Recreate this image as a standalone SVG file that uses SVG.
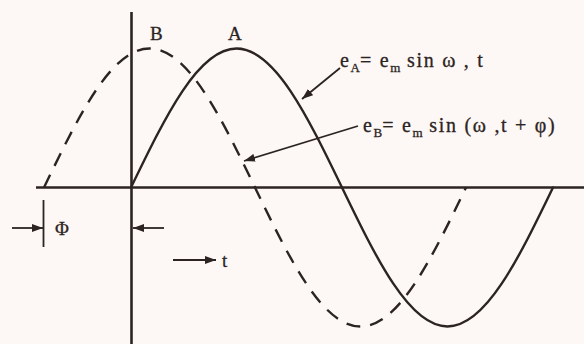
<svg xmlns="http://www.w3.org/2000/svg" width="584" height="344" viewBox="0 0 584 344">
<style>
.ink{stroke:#2b2422;fill:none;stroke-width:2.4;stroke-linecap:round}
.axis{stroke:#2b2422;fill:none;stroke-width:2.6}
.dash{stroke-dasharray:14 10;stroke-linecap:butt}
.lead{stroke:#2b2422;fill:none;stroke-width:1.8}
.t{font-family:"Liberation Serif","Times New Roman",serif;fill:#2b2422;font-size:18px}
.lbl{font-size:19px;stroke:#2b2422;stroke-width:0.3}
.eq{font-size:20px;letter-spacing:1.7px;stroke:#2b2422;stroke-width:0.3}
.sub{font-size:13px;letter-spacing:0}
</style>
<defs>
<marker id="ah" markerUnits="userSpaceOnUse" markerWidth="11" markerHeight="8" refX="11" refY="4" orient="auto">
<path d="M0,0 L11,4 L0,8 z" fill="#2b2422"/>
</marker>
</defs>
<rect width="584" height="344" fill="#fdf7f5"/>
<g id="axes">
<line class="axis" x1="36" y1="187.5" x2="584" y2="187.5"/>
<line class="axis" x1="131.5" y1="12" x2="131.5" y2="344"/>
</g>
<g id="curveA">
<path class="ink" d="M131,187.5 C165.4,116.3 198.3,48.5 236.5,48.5 S307.6,116.3 342,187.5 S409.3,326.5 447.5,326.5 S518.6,258.7 553,187.5"/>
<text class="t lbl" x="228" y="40">A</text>
</g>
<g id="curveB">
<path class="ink dash" d="M44,187.5 C78.4,116.3 111.3,48.5 149.5,48.5 S220.6,116.3 255,187.5 S322.3,326.5 360.5,326.5 S431.6,258.7 466,187.5"/>
<text class="t lbl" x="150" y="40">B</text>
</g>
<g id="connectors">
<line class="lead" x1="340" y1="68" x2="302" y2="99" marker-end="url(#ah)"/>
<line class="lead" x1="358" y1="126" x2="244" y2="161" marker-end="url(#ah)"/>
<line class="lead" x1="12" y1="228" x2="43" y2="228" marker-end="url(#ah)"/>
<line class="lead" x1="164" y1="228" x2="133" y2="228" marker-end="url(#ah)"/>
<line class="lead" x1="173" y1="260" x2="216" y2="260" marker-end="url(#ah)"/>
<line class="lead" x1="43.5" y1="200" x2="43.5" y2="247"/>
</g>
<g id="labelEA">
<text class="t eq" x="340" y="67">e<tspan class="sub" dy="5">A</tspan><tspan dy="-5">= e</tspan><tspan class="sub" dy="5">m</tspan><tspan dy="-5"> sin ω , t</tspan></text>
</g>
<g id="labelEB">
<text class="t eq" x="363" y="132">e<tspan class="sub" dy="5">B</tspan><tspan dy="-5">= e</tspan><tspan class="sub" dy="5">m</tspan><tspan dy="-5"> sin (ω ,t + φ)</tspan></text>
</g>
<g id="labels">
<text class="t lbl" x="55" y="235">Φ</text>
<text class="t lbl" x="222" y="267">t</text>
</g>
</svg>
